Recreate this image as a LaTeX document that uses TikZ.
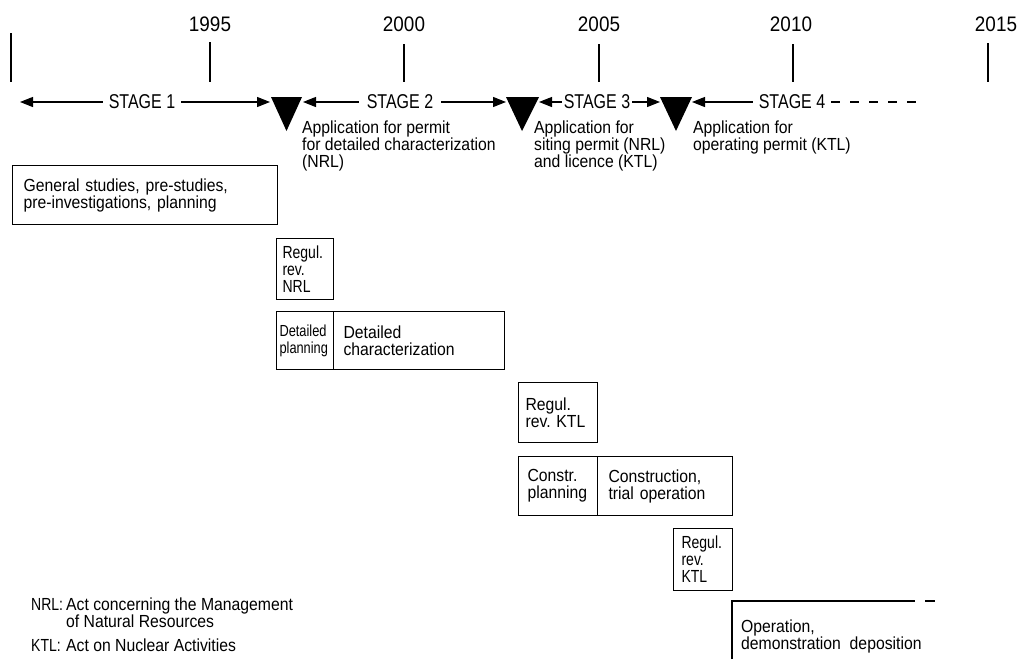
\documentclass[tikz,border=0pt]{standalone}
\usepackage{fontspec}
\setmainfont{Liberation Sans}[FakeStretch=0.9]
\newfontfamily\condfont{Liberation Sans}[FakeStretch=0.8]
\usetikzlibrary{arrows.meta}
\newcommand\mainsz{\fontsize{17.5}{17}\selectfont}
\newcommand\stagesz{\condfont\fontsize{20}{20}\selectfont}
\newcommand\yearsz{\fontsize{21}{22}\selectfont}
\newcommand\condsz{\condfont\fontsize{17.5}{17}\selectfont}
\newcommand\tinysz{\condfont\fontsize{16}{17}\selectfont}
\begin{document}
\begin{tikzpicture}[x=1pt,y=-1pt,
  every node/.style={inner sep=0pt},
  yearlbl/.style={font=\yearsz, anchor=base},
  ticklne/.style={line width=1.1pt},
  stagelbl/.style={font=\stagesz, inner xsep=6pt},
  stagearr/.style={line width=1.1pt, -{Triangle[length=13pt,width=10pt]}},
  milestone/.style={fill=black},
  apptxt/.style={font=\mainsz, anchor=base west, align=left},
  box/.style={draw, line width=1.1pt, anchor=north west, align=left, inner ysep=0pt, font=\mainsz},
  smallbox/.style={box, font=\condsz},
  legend/.style={font=\mainsz, anchor=base west, align=left},
  legkey/.style={font=\condsz, anchor=base west}
]
\useasboundingbox (0,0) rectangle (1025,659);

% years and ticks
\node[yearlbl] (y1995) at (210,31) {1995};
\node[yearlbl] (y2000) at (404,31) {2000};
\node[yearlbl] (y2005) at (599,31) {2005};
\node[yearlbl] (y2010) at (791,31) {2010};
\node[yearlbl] (y2015) at (996,31) {2015};
\draw[ticklne] (11,33) -- (11,82);
\draw[ticklne] (210,42) -- (210,82);
\draw[ticklne] (404,44) -- (404,82);
\draw[ticklne] (599,44) -- (599,82);
\draw[ticklne] (793,44) -- (793,82);
\draw[ticklne] (988,43) -- (988,82);

% stage line
\node[stagelbl] (s1) at (142,102) {STAGE 1};
\node[stagelbl, inner xsep=8pt] (s2) at (400,102) {STAGE 2};
\node[stagelbl, inner xsep=2pt] (s3) at (597,102) {STAGE 3};
\node[stagelbl] (s4) at (792,102) {STAGE 4};
\coordinate (t1l) at (20,102);
\coordinate (t1r) at (270,102);
\coordinate (t2l) at (303,102);
\coordinate (t2r) at (506,102);
\coordinate (t3l) at (539,102);
\coordinate (t3r) at (660,102);
\coordinate (t4l) at (692,102);
\coordinate (t4e) at (918,102);
\draw[stagearr] (s1.west) -- (t1l);
\draw[stagearr] (s1.east) -- (t1r);
\draw[stagearr] (s2.west) -- (t2l);
\draw[stagearr] (s2.east) -- (t2r);
\draw[stagearr] (s3.west) -- (t3l);
\draw[stagearr] (s3.east) -- (t3r);
\draw[stagearr] (s4.west) -- (t4l);
\draw[line width=1.1pt, dash pattern=on 9pt off 10pt] (s4.east) -- (t4e);

% milestones
\fill[milestone] (271,97) -- (302,97) -- (286.5,131) -- cycle;
\fill[milestone] (506,97) -- (539,97) -- (522,131) -- cycle;
\fill[milestone] (660,97) -- (692,97) -- (676,131) -- cycle;

% application texts (base = last line)
\node[apptxt] (a1) at (302,167) {Application for permit\\for detailed characterization\\(NRL)};
\node[apptxt] (a2) at (534,167) {Application for\\siting permit (NRL)\\and licence (KTL)};
\node[apptxt] (a3) at (693,150) {Application for\\operating permit (KTL)};

% boxes
\node[box, minimum width=265pt, minimum height=59pt, inner xsep=11pt, text width=243pt] (gen) at (12,165)
  {General studies, pre-studies,\\pre-investigations, planning};
\node[smallbox, minimum width=57pt, minimum height=61pt, inner xsep=6pt, text width=45pt] (rrn) at (276,238)
  {Regul.\\rev.\\NRL};
\node[smallbox, font=\tinysz, minimum width=57pt, minimum height=58pt, inner xsep=3pt, text width=51pt] (dp) at (276,311)
  {Detailed\\planning};
\node[box, minimum width=171pt, minimum height=58pt, inner xsep=10pt, text width=151pt] (dc) at (333,311)
  {Detailed\\characterization};
\node[box, minimum width=79pt, minimum height=60pt, inner xsep=7pt, text width=65pt] (rrk) at (518,382)
  {Regul.\\rev.~KTL};
\node[box, minimum width=79pt, minimum height=59pt, inner xsep=9pt, text width=61pt] (cp) at (518,456)
  {Constr.\\planning};
\node[box, minimum width=135pt, minimum height=59pt, inner xsep=11pt, text width=113pt] (ct) at (597,456)
  {Construction,\\trial operation};
\node[smallbox, minimum width=59pt, minimum height=62pt, inner xsep=8pt, text width=43pt] (rrk2) at (673,528)
  {Regul.\\rev.\\KTL};

% open-ended operation bar
\coordinate (opnw) at (732,601);
\coordinate (opsw) at (732,659);
\coordinate (ope) at (915,601);
\coordinate (opd1) at (925,601);
\coordinate (opd2) at (935,601);
\draw[line width=1.1pt] (opsw) -- (opnw) -- (ope);
\draw[line width=1.1pt] (opd1) -- (opd2);
\node[apptxt] (op) at (741,649) {Operation,\\demonstration\ \ deposition};

% legend
\node[legkey] (lnrl) at (31,610) {NRL:};
\node[legend] (lnrlt) at (66,627) {Act concerning the Management\\of Natural Resources};
\node[legkey] (lktl) at (31,651) {KTL:};
\node[legend] (lktlt) at (66,651) {Act on Nuclear Activities};
\end{tikzpicture}
\end{document}
